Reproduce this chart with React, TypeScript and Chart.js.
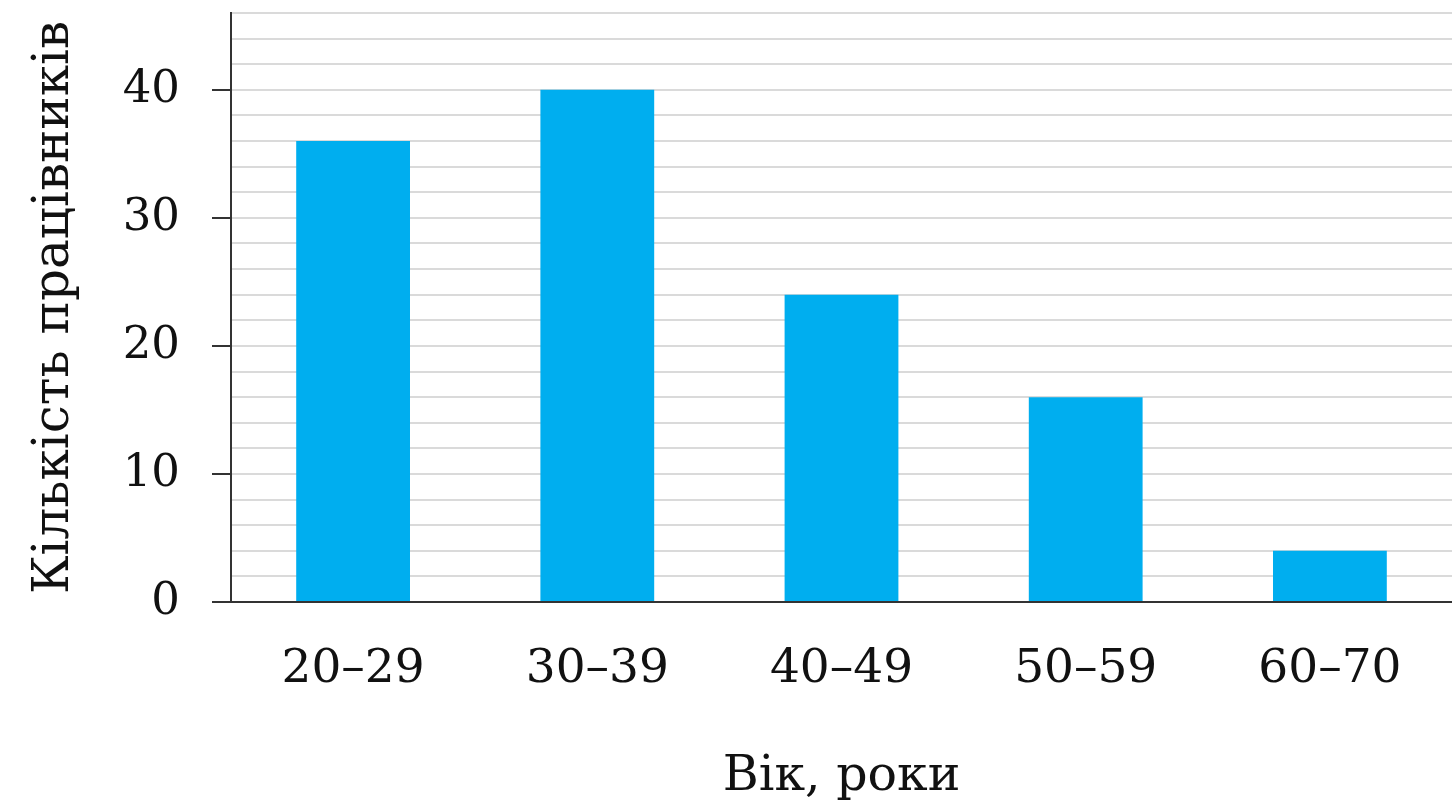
import React, { useEffect, useRef } from "react";
import { Chart, registerables } from "chart.js";

Chart.register(...registerables);

const categories: string[] = ["20–29", "30–39", "40–49", "50–59", "60–70"];
const workers: number[] = [36, 40, 24, 16, 4];
const yMax = 46;
const yStep = 2;
const yLabelStep = 10;
const xTitle = "Вік, роки";
const yTitle = "Кількість працівників";

const FONT = "'DejaVu Serif', 'Liberation Serif', serif";

export default function App() {
  const ref = useRef<HTMLCanvasElement>(null);

  useEffect(() => {
    document.body.style.margin = "0";
    const canvas = ref.current;
    if (!canvas) return;
    const chart = new Chart(canvas, {
      type: "bar",
      data: {
        labels: categories,
        datasets: [
          {
            data: workers,
            backgroundColor: "#00AEEF",
            borderWidth: 0,
            barPercentage: 0.466,
            categoryPercentage: 1,
          },
        ],
      },
      options: {
        responsive: false,
        animation: false,
        devicePixelRatio: 1,
        layout: { padding: { top: 13, right: 0, bottom: 0, left: 0 } },
        plugins: {
          legend: { display: false },
          tooltip: { enabled: false },
        },
        scales: {
          x: {
            grid: { display: false, drawTicks: false },
            border: { display: true, color: "#333", width: 2 },
            ticks: {
              color: "#111",
              padding: 40,
              font: { family: FONT, size: 47 },
              maxRotation: 0,
            },
            title: {
              display: true,
              text: xTitle,
              color: "#111",
              font: { family: FONT, size: 49 },
              padding: { top: 0, bottom: 3 },
            },
            afterFit: (scale: any) => {
              scale.height = 208;
              scale.paddingLeft = 0;
              scale.paddingRight = 0;
            },
          },
          y: {
            min: 0,
            max: yMax,
            grid: {
              color: (ctx: any) =>
                ctx.tick && ctx.tick.value === 0 ? "#333" : "#dadada",
              lineWidth: 2,
              tickLength: 19,
              tickColor: (ctx: any) =>
                ctx.tick && ctx.tick.value % yLabelStep === 0 ? "#333" : "rgba(0,0,0,0)",
              tickWidth: 2,
            },
            border: { display: true, color: "#333", width: 2 },
            ticks: {
              stepSize: yStep,
              autoSkip: false,
              color: "#111",
              padding: 32,
              font: { family: FONT, size: 45 },
              callback: (v: any) => (Number(v) % yLabelStep === 0 ? String(v) : ""),
            },
            title: {
              display: true,
              text: yTitle,
              color: "#111",
              font: { family: FONT, size: 50 },
              padding: { top: 25, bottom: 0 },
            },
            afterFit: (scale: any) => {
              scale.width = 231;
              scale.paddingTop = 0;
              scale.paddingBottom = 0;
            },
          },
        },
      },
    });
    return () => chart.destroy();
  }, []);

  return (
    <div style={{ width: 1452, height: 810, background: "#fff" }}>
      <canvas ref={ref} width={1452} height={810} style={{ display: "block", width: 1452, height: 810 }} />
    </div>
  );
}
